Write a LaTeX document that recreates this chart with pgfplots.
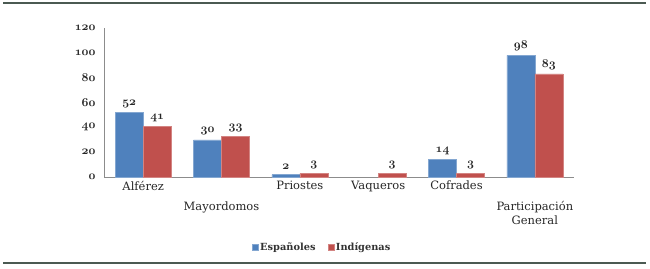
\documentclass[border=0pt]{standalone}
\usepackage{pgfplots}
\pgfplotsset{compat=1.18}
\usepackage{fontspec}
\setmainfont{DejaVu Serif}
\definecolor{bblue}{HTML}{4F81BD}
\definecolor{rred}{HTML}{C0504D}
\definecolor{rulec}{HTML}{4B5A52}
\definecolor{axc}{HTML}{8C8C8C}
\newcommand\osf[1]{{\fontencoding{OML}\fontfamily{cmm}\fontseries{b}\fontshape{it}\selectfont #1}}
\begin{document}
\begin{tikzpicture}
\useasboundingbox (0,0) rectangle (650pt,268pt);
\draw[line width=2.5pt, rulec] (3pt,265pt) -- (646pt,265pt);
\draw[line width=2.5pt, rulec] (3pt,5pt) -- (646pt,5pt);
\begin{axis}[
  at={(104pt,91pt)}, anchor=south west,
  scale only axis, width=470pt, height=149pt,
  ybar=0pt, bar width=28pt,
  xmin=-0.5, xmax=5.5, ymin=0, ymax=120,
  ytick={0,20,...,120},
  xtick={0,...,5},
  xticklabels={Alférez,{\mbox{}\\[15pt]Mayordomos},Priostes,Vaqueros,Cofrades,{\mbox{}\\[15pt]Participación\\General}},
  xticklabel style={align=center, font=\fontsize{11.5}{14}\selectfont, text=black!85, anchor=north, yshift=-0.5pt},
  yticklabel={\osf{\pgfmathprintnumber[assume math mode=true]{\tick}}},
  yticklabel style={font=\fontsize{12.5}{14}\selectfont, text=black!85, xshift=-5pt},
  axis x line*=bottom, axis y line*=left,
  axis line style={axc, -},
  major tick length=0pt,
  nodes near coords={\osf{\pgfmathprintnumber[assume math mode=true]{\pgfplotspointmeta}}},
  every node near coord/.append style={font=\fontsize{12}{14}\selectfont, text=black!85, yshift=1pt},
  legend style={at={(0.464,-0.47)}, anchor=center, draw=none, fill=none, legend columns=2,
    font=\fontsize{9.8}{12}\selectfont\bfseries, text=black!80,
    /tikz/every even column/.append style={column sep=10pt}},
  legend image code/.code={\fill[#1] (0pt,-3pt) rectangle (6pt,3pt);},
  clip=false,
]
\addplot[fill=bblue, draw=bblue!70!white] coordinates {(0,52) (1,30) (2,2) (4,14) (5,98)};
\addplot[fill=rred, draw=rred!70!white] coordinates {(0,41) (1,33) (2,3) (3,3) (4,3) (5,83)};
\legend{Españoles, Indígenas}
\end{axis}
\end{tikzpicture}
\end{document}
